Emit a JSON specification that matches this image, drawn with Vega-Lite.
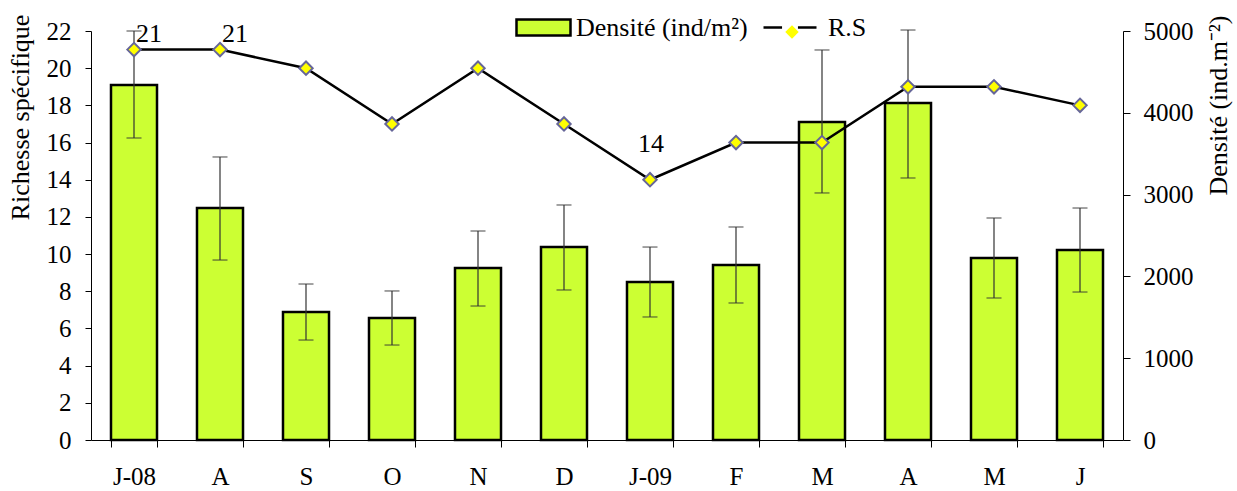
{
  "$schema": "https://vega.github.io/schema/vega-lite/v6.json",
  "width": 1032,
  "height": 409,
  "autosize": {"type": "none"},
  "padding": {"left": 91, "top": 31, "right": 114, "bottom": 51},
  "background": "white",
  "config": {
    "view": {"stroke": null},
    "font": "Liberation Serif",
    "axis": {
      "labelFont": "Liberation Serif",
      "labelFontSize": 25,
      "labelColor": "black",
      "titleFont": "Liberation Serif",
      "titleFontSize": 26,
      "titleFontWeight": "normal",
      "titleColor": "black",
      "domainColor": "black",
      "tickColor": "black",
      "grid": false,
      "labelOverlap": false
    },
    "legend": {
      "labelFont": "Liberation Serif",
      "labelFontSize": 26,
      "labelColor": "black",
      "labelLimit": 400,
      "padding": 0
    }
  },
  "data": {
    "values": [
      {"cle": "Jul-08", "rs": 21, "densite": 4340, "bas": 3692, "haut": 5000, "etiquette": "21"},
      {"cle": "Aug-08", "rs": 21, "densite": 2836, "bas": 2200, "haut": 3460, "etiquette": "21"},
      {"cle": "Sep-08", "rs": 20, "densite": 1565, "bas": 1222, "haut": 1907, "etiquette": ""},
      {"cle": "Oct-08", "rs": 17, "densite": 1491, "bas": 1161, "haut": 1822, "etiquette": ""},
      {"cle": "Nov-08", "rs": 20, "densite": 2103, "bas": 1638, "haut": 2555, "etiquette": ""},
      {"cle": "Dec-08", "rs": 17, "densite": 2359, "bas": 1834, "haut": 2873, "etiquette": ""},
      {"cle": "Jan-09", "rs": 14, "densite": 1932, "bas": 1504, "haut": 2359, "etiquette": "14"},
      {"cle": "Feb-09", "rs": 16, "densite": 2139, "bas": 1675, "haut": 2604, "etiquette": ""},
      {"cle": "Mar-09", "rs": 16, "densite": 3888, "bas": 3020, "haut": 4768, "etiquette": ""},
      {"cle": "Apr-09", "rs": 19, "densite": 4120, "bas": 3203, "haut": 5012, "etiquette": ""},
      {"cle": "May-09", "rs": 19, "densite": 2225, "bas": 1736, "haut": 2714, "etiquette": ""},
      {"cle": "Jun-09", "rs": 18, "densite": 2323, "bas": 1809, "haut": 2836, "etiquette": ""}
    ]
  },
  "encoding": {
    "x": {
      "field": "cle",
      "type": "nominal",
      "sort": null,
      "scale": {"paddingInner": 0.465, "paddingOuter": 0.2325},
      "axis": {
        "title": null,
        "labelAngle": 0,
        "tickBand": "extent",
        "tickSize": 7,
        "labelPadding": 17,
        "labelExpr": "!datum.value ? '' : datum.value == 'Jul-08' ? 'J-08' : datum.value == 'Jan-09' ? 'J-09' : substring(datum.value, 0, 1)"
      }
    }
  },
  "layer": [
    {
      "layer": [
        {
          "mark": {"type": "bar", "stroke": "black", "strokeWidth": 2.5},
          "encoding": {
            "y": {
              "field": "densite",
              "type": "quantitative",
              "scale": {"domain": [0, 5000]},
              "axis": {
                "orient": "right",
                "values": [0, 1000, 2000, 3000, 4000, 5000],
                "format": "d",
                "labelOverlap": false,
                "tickSize": 7,
                "labelPadding": 13,
                "title": "Densité (ind.m⁻²)",
                "titleAngle": -90,
                "titleBaseline": "middle",
                "titleAlign": "center",
                "titleX": 95,
                "titleY": 74
              }
            },
            "fill": {
              "datum": "Densité (ind/m²)",
              "scale": {"range": ["#CCFF33"]},
              "legend": {
                "title": null,
                "orient": "none",
                "legendX": 424,
                "legendY": -32,
                "symbolType": "M-1,-0.296H1V0.296H-1Z",
                "symbolSize": 2916,
                "symbolStrokeColor": "black",
                "symbolStrokeWidth": 2.5,
                "symbolOpacity": 1,
                "labelOffset": 4
              }
            }
          }
        },
        {
          "mark": {"type": "rule", "stroke": "#333333", "strokeWidth": 1.2},
          "encoding": {
            "y": {"field": "bas", "type": "quantitative"},
            "y2": {"field": "haut"}
          }
        },
        {
          "mark": {"type": "tick", "color": "#333333", "thickness": 1.3, "size": 15, "orient": "horizontal"},
          "encoding": {"y": {"field": "bas", "type": "quantitative"}}
        },
        {
          "mark": {"type": "tick", "color": "#333333", "thickness": 1.3, "size": 15, "orient": "horizontal"},
          "encoding": {"y": {"field": "haut", "type": "quantitative"}}
        }
      ]
    },
    {
      "encoding": {
        "y": {
          "field": "rs",
          "type": "quantitative",
          "scale": {"domain": [0, 22]},
          "axis": {
            "orient": "left",
            "values": [0, 2, 4, 6, 8, 10, 12, 14, 16, 18, 20, 22],
            "labelOverlap": false,
            "tickSize": 6,
            "labelPadding": 14,
            "title": "Richesse spécifique",
            "titleAngle": -90,
            "titleBaseline": "middle",
            "titleAlign": "center",
            "titleX": -71,
            "titleY": 86
          }
        }
      },
      "layer": [
        {
          "mark": {"type": "line", "strokeWidth": 2.5},
          "encoding": {
            "stroke": {
              "datum": "R.S",
              "scale": {"range": ["black"]},
              "legend": {
                "title": null,
                "orient": "none",
                "legendX": 671,
                "legendY": -31.5,
                "symbolType": "M-1,0H-0.3M0.3,0H1",
                "symbolSize": 2809,
                "symbolStrokeWidth": 2.5,
                "labelOffset": 10
              }
            }
          }
        },
        {
          "mark": {"type": "point", "filled": true, "fill": "#FFFF00", "stroke": "#666699", "strokeWidth": 2, "size": 180, "opacity": 1},
          "encoding": {
            "shape": {
              "datum": "RS",
              "scale": {"range": ["diamond"]},
              "legend": {
                "title": null,
                "orient": "none",
                "legendX": 688,
                "legendY": -12,
                "symbolSize": 180,
                "symbolFillColor": "#FFFF00",
                "symbolStrokeColor": "#666699",
                "symbolStrokeWidth": 2,
                "symbolOpacity": 1,
                "labelExpr": "''",
                "encode": {
                  "symbols": {
                    "update": {
                      "fill": {"value": "#FFFF00"},
                      "stroke": {"value": "#666699"},
                      "strokeWidth": {"value": 2},
                      "opacity": {"value": 1}
                    }
                  }
                }
              }
            }
          }
        },
        {
          "transform": [{"filter": "datum.etiquette == '21'"}],
          "mark": {"type": "text", "dx": 15, "dy": -16, "fontSize": 26, "font": "Liberation Serif", "color": "black", "baseline": "middle"},
          "encoding": {
            "text": {"field": "etiquette"}
          }
        },
        {
          "transform": [{"filter": "datum.etiquette == '14'"}],
          "mark": {"type": "text", "dx": 1, "dy": -36, "fontSize": 26, "font": "Liberation Serif", "color": "black", "baseline": "middle"},
          "encoding": {
            "text": {"field": "etiquette"}
          }
        }
      ]
    }
  ],
  "resolve": {"scale": {"y": "independent"}}
}
